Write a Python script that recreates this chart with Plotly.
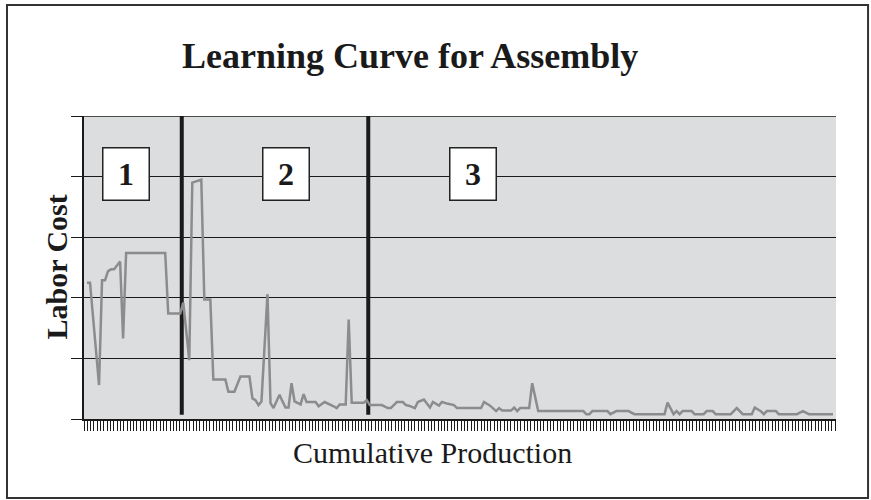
import plotly.graph_objects as go

# ---- data ----
production = [1, 2, 5, 6, 7, 8, 9, 10, 12, 13,
              14, 27, 28, 32, 33, 35, 36, 39, 40, 42,
              43, 47, 48, 50, 52, 55, 56, 57, 58, 59,
              61, 62, 63, 65, 66, 67, 68, 69, 70, 72,
              73, 74, 77, 78, 80, 82, 83, 84, 85, 87,
              88, 89, 93, 94, 95,
              99, 101, 102, 104, 106, 107, 108, 110, 111, 113,
              115, 116, 118, 119, 121, 123, 124, 132, 133, 135,
              137, 138, 139, 142, 143, 144, 145, 148, 149, 151,
              166, 167, 168, 169, 174, 175, 177, 181, 183, 193,
              194, 196, 197, 198, 199, 202, 203, 206, 207, 209,
              210, 215, 217, 219, 222, 223, 225, 226, 227, 230,
              231, 237, 239, 241, 249]
labor_cost = [2.25, 2.25, 0.56, 2.29, 2.29, 2.44, 2.47, 2.47, 2.60, 1.33,
              2.74, 2.74, 1.74, 1.74, 1.92, 0.97, 3.90, 3.95, 1.97, 1.97,
              0.65, 0.65, 0.45, 0.45, 0.70, 0.70, 0.34, 0.31, 0.23, 0.29,
              2.06, 0.26, 0.18, 0.40, 0.29, 0.19, 0.19, 0.59, 0.29, 0.24,
              0.41, 0.28, 0.28, 0.21, 0.28, 0.24, 0.21, 0.18, 0.24, 0.24,
              1.64, 0.27, 0.27, 0.31, 0.23,
              0.23, 0.18, 0.18, 0.28, 0.28, 0.23, 0.22, 0.18, 0.28, 0.32,
              0.19, 0.28, 0.22, 0.28, 0.25, 0.23, 0.18, 0.18, 0.28, 0.22,
              0.13, 0.18, 0.14, 0.14, 0.19, 0.13, 0.18, 0.18, 0.59, 0.13,
              0.13, 0.08, 0.08, 0.13, 0.13, 0.08, 0.13, 0.13, 0.08, 0.08,
              0.27, 0.08, 0.13, 0.08, 0.13, 0.13, 0.08, 0.08, 0.13, 0.13,
              0.08, 0.08, 0.18, 0.08, 0.08, 0.19, 0.13, 0.08, 0.13, 0.13,
              0.08, 0.08, 0.13, 0.08, 0.08]

phase_breaks = [32.5, 94.5]
phase_labels = ["1", "2", "3"]
phase_label_x = [13.8, 67.0, 129.2]
phase_label_y = 4.05
n_units = 250
y_max = 5

FONT = "Liberation Serif, Times New Roman, serif"

fig = go.Figure()
fig.add_trace(go.Scatter(
    x=production, y=labor_cost, mode="lines",
    line=dict(color="#8c8c8c", width=2.5),
    showlegend=False, hoverinfo="skip",
))

shapes = []
for xb in phase_breaks:
    shapes.append(dict(type="line", xref="x", yref="y", x0=xb, x1=xb,
                       y0=0.07, y1=y_max, line=dict(color="#1a1a1a", width=4),
                       layer="below"))
# top gridline at the edge of the plot area
shapes.append(dict(type="line", xref="paper", yref="y", x0=0, x1=1,
                   y0=y_max, y1=y_max, line=dict(color="#1a1a1a", width=1.3),
                   layer="below"))
# outer frame
shapes.append(dict(type="rect", xref="paper", yref="paper",
                   x0=-0.1024, x1=1.0426, y0=-0.2607, y1=1.366,
                   line=dict(color="#333333", width=2)))

annotations = []
for lab, lx in zip(phase_labels, phase_label_x):
    annotations.append(dict(
        x=lx, y=phase_label_y, xref="x", yref="y", text="<b>%s</b>" % lab,
        showarrow=False, font=dict(family=FONT, size=32, color="#1a1a1a"),
        bgcolor="white", bordercolor="#222222", borderwidth=1.5, borderpad=0,
        width=45, height=51, xanchor="center", yanchor="middle"))
annotations.append(dict(
    x=0.4335, y=1.198, xref="paper", yref="paper",
    text="<b>Learning Curve for Assembly</b>", showarrow=False,
    font=dict(family=FONT, size=36, color="#1a1a1a"),
    xanchor="center", yanchor="middle"))
annotations.append(dict(
    x=-0.0372, y=0.5, xref="paper", yref="paper", textangle=-90,
    text="<b>Labor Cost</b>", showarrow=False,
    font=dict(family=FONT, size=30, color="#1a1a1a"),
    xanchor="center", yanchor="middle"))
annotations.append(dict(
    x=0.4634, y=-0.109, xref="paper", yref="paper",
    text="Cumulative Production", showarrow=False,
    font=dict(family=FONT, size=30, color="#1a1a1a"),
    xanchor="center", yanchor="middle"))

fig.update_layout(
    width=871, height=500,
    margin=dict(l=84, r=35, t=116, b=81),
    paper_bgcolor="white", plot_bgcolor="#dcdddf",
    shapes=shapes, annotations=annotations,
    xaxis=dict(range=[0, n_units], tick0=0, dtick=1.1, ticks="outside",
               ticklen=10, tickwidth=1, tickcolor="#1a1a1a",
               showticklabels=False, showgrid=False, zeroline=False,
               showline=True, linecolor="#1a1a1a", linewidth=2,
               fixedrange=True),
    yaxis=dict(range=[0, y_max], tickvals=[0, 1, 2, 3, 4, 5], ticks="outside",
               ticklen=11, tickwidth=1.2, tickcolor="#1a1a1a",
               showticklabels=False, showgrid=True, gridcolor="#1a1a1a",
               gridwidth=1.3, zeroline=False, showline=True,
               linecolor="#1a1a1a", linewidth=1.5, fixedrange=True),
)

fig.write_html("out.html", config={"displayModeBar": False},
               post_script="document.body.style.margin='0';"
                           "document.body.style.overflow='hidden';")
